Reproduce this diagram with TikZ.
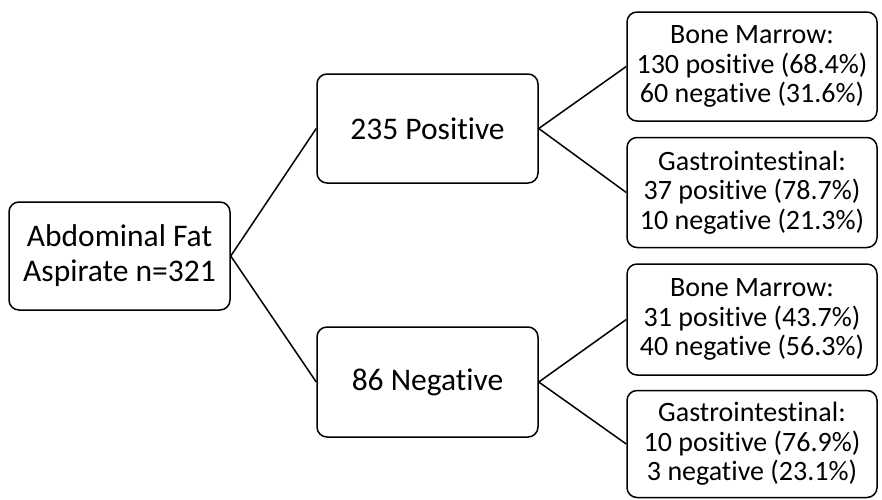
\documentclass[tikz,border=0pt]{standalone}
\usepackage{fontspec}
\setmainfont{Carlito}[Ligatures=NoCommon]
\begin{document}
\begin{tikzpicture}[x=1pt,y=-1pt,
  box/.style={draw=black, line width=1.5pt, rounded corners=10pt, fill=white,
    align=center, inner sep=0pt},
  mainbox/.style={box, minimum width=221pt, font=\fontsize{31.5}{35}\selectfont},
  leafbox/.style={box, minimum width=250pt, font=\fontsize{28}{29.5}\selectfont},
  link/.style={draw=black, line width=1.5pt}]
\useasboundingbox (0,0) rectangle (882,499);

% root and first split
\node[mainbox, minimum height=108pt] (root) at (119.5,256) {Abdominal Fat\\Aspirate n=321};
\node[mainbox, minimum height=109pt] (pos) at (427.5,128.5) {235 Positive};
\node[mainbox, minimum height=110pt] (neg) at (427.5,382) {86 Negative};

% biopsy results per branch
\node[leafbox, minimum height=109pt] (bm1) at (752,66.5) {Bone Marrow:\\130 positive (68.4\%)\\60 negative (31.6\%)};
\node[leafbox, minimum height=110pt] (gi1) at (752,192.5) {Gastrointestinal:\\37 positive (78.7\%)\\10 negative (21.3\%)};
\node[leafbox, minimum height=111pt] (bm2) at (752,319.5) {Bone Marrow:\\31 positive (43.7\%)\\40 negative (56.3\%)};
\node[leafbox, minimum height=107pt] (gi2) at (752,444) {Gastrointestinal:\\10 positive (76.9\%)\\3 negative (23.1\%)};

% connectors
\draw[link] (root.east) -- (pos.west);
\draw[link] (root.east) -- (neg.west);
\draw[link] (pos.east) -- (bm1.west);
\draw[link] (pos.east) -- (gi1.west);
\draw[link] (neg.east) -- (bm2.west);
\draw[link] (neg.east) -- (gi2.west);
\end{tikzpicture}
\end{document}
